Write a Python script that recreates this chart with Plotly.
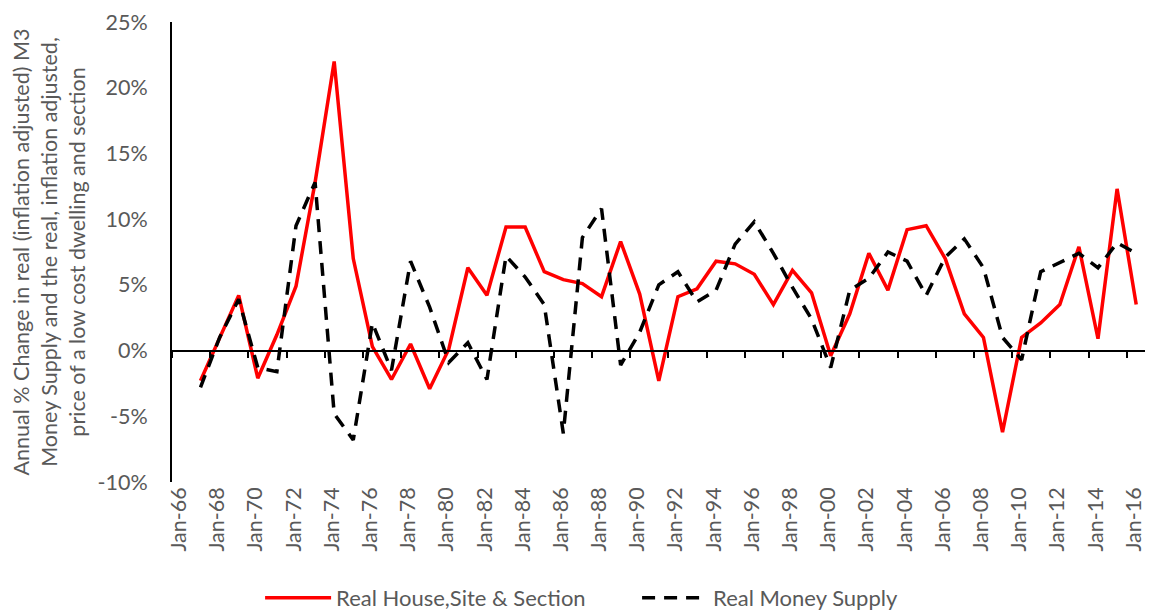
import plotly.graph_objects as go

years = list(range(1967, 2017))

house_site_section = [
    -2.3, 0.9, 4.2, -2.1, 1.2, 4.9, 12.8, 22.0, 7.0, 0.3,
    -2.2, 0.5, -2.9, 0.1, 6.3, 4.2, 9.4, 9.4, 6.0, 5.4,
    5.1, 4.1, 8.3, 4.3, -2.3, 4.1, 4.7, 6.8, 6.6, 5.8,
    3.5, 6.1, 4.4, -0.4, 2.8, 7.4, 4.6, 9.2, 9.5, 7.0,
    2.8, 1.0, -6.2, 1.0, 2.1, 3.5, 7.9, 0.9, 12.3, 3.5,
]

money_supply = [
    -2.8, 1.0, 3.9, -1.3, -1.6, 9.5, 12.8, -4.8, -6.8, 2.1,
    -1.5, 6.8, 3.3, -0.9, 0.6, -2.2, 7.2, 5.6, 3.5, -6.3,
    8.6, 10.8, -1.1, 1.4, 5.0, 6.0, 3.7, 4.6, 8.1, 9.8,
    7.4, 4.8, 2.4, -1.3, 4.6, 5.5, 7.5, 6.8, 4.2, 7.1,
    8.5, 6.3, 1.0, -0.7, 6.0, 6.7, 7.4, 6.3, 8.2, 7.4,
]

y_ticks = [-10, -5, 0, 5, 10, 15, 20, 25]
y_ticklabels = [f"{v}%" for v in y_ticks]

series_names = ["Real House,Site & Section", "Real Money Supply"]
y_title = ("Annual % Change in real (inflation adjusted) M3<br>"
           "Money Supply and the real, inflation adjusted,<br>"
           "price of a low cost dwelling and section")

dates = [f"{y}-06-30" for y in years]
x_range = ["1966-01-01", "2016-12-15"]

FONT = "Lato"
GREY = "#595959"
FS = 21.5

fig = go.Figure()
fig.add_trace(go.Scatter(
    x=dates, y=house_site_section, mode="lines", name=series_names[0],
    line=dict(color="#FF0000", width=3.5),
))
fig.add_trace(go.Scatter(
    x=dates, y=money_supply, mode="lines", name=series_names[1],
    line=dict(color="#000000", width=3.5, dash="13px,9px"),
))
# empty trace so the zero-crossing axis is drawn
fig.add_trace(go.Scatter(x=[], y=[], xaxis="x2", yaxis="y", showlegend=False,
                         hoverinfo="skip"))

fig.update_layout(
    width=1145, height=603,
    margin=dict(l=164, r=8, t=14, b=129, autoexpand=False),
    paper_bgcolor="white", plot_bgcolor="white",
    font=dict(family=FONT, size=FS, color=GREY),
    showlegend=True,
    legend=dict(orientation="h", x=0.478, xanchor="center", y=-0.252,
                yanchor="middle", font=dict(size=22, color=GREY),
                itemwidth=66, entrywidth=296, entrywidthmode="pixels",
                bgcolor="rgba(0,0,0,0)"),
    xaxis=dict(
        type="date", range=x_range, dtick="M24", tick0="1966-01-01",
        tickformat="%b-%y", tickangle=-90, showline=False, ticks="",
        showgrid=False, zeroline=False, tickfont=dict(size=FS, color=GREY),
        automargin=False, ticklabelshift=7,
    ),
    xaxis2=dict(
        type="date", range=x_range, dtick="M24", tick0="1966-01-01",
        overlaying="x", anchor="free", position=10 / 35,
        showline=True, linecolor="black", linewidth=2,
        ticks="outside", ticklen=6, tickwidth=2, tickcolor="black",
        showticklabels=False, showgrid=False, zeroline=False,
        automargin=False,
    ),
    yaxis=dict(
        range=[-10, 25], tickvals=y_ticks, ticktext=y_ticklabels,
        showline=True, linecolor="black", linewidth=2, ticks="",
        showgrid=False, zeroline=False, tickfont=dict(size=FS, color=GREY),
        ticklabelstandoff=18, automargin=False,
        title=dict(text=y_title, font=dict(size=FS, color=GREY), standoff=10),
    ),
)

fig.write_html("out.html")
